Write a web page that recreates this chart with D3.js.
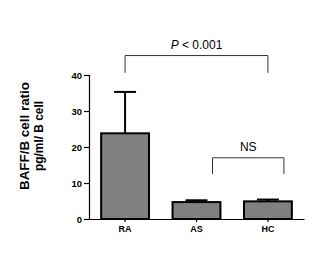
<!DOCTYPE html>
<html>
<head>
<meta charset="utf-8">
<script src="https://cdn.jsdelivr.net/npm/d3@7"></script>
<style>
  body { margin: 0; background: #fff; }
  svg { display: block; font-family: Arial, "Liberation Sans", sans-serif; }
</style>
</head>
<body>
<svg width="326" height="254"></svg>
<script>
// group means and error (SEM)
const groups = ["RA", "AS", "HC"];
const means = [23.8, 4.7, 4.9];
const errors = [11.5, 0.5, 0.5];
const yTicks = [0, 10, 20, 30, 40];

// significance brackets: [from group, to group, top value, leg end value, label]
const brackets = [
    ["RA", "HC", 45.4, 40.6, "P < 0.001"],
    ["AS", "HC", 17.0, 12.5, "NS"]
];

var svg = d3.select("svg");

var x = d3.scaleBand()
    .domain(groups)
    .range([89, 304])
    .paddingInner(0.33)
    .paddingOuter(0.17);

var y = d3.scaleLinear()
    .domain([0, 40])
    .range([219, 75]);

// y axis
var yAxis = svg.append("g")
    .attr("transform", "translate(89,0)")
    .call(d3.axisLeft(y).tickValues(yTicks).tickSize(5).tickPadding(2));
yAxis.select(".domain").attr("stroke", "#000").attr("stroke-width", 1.2);
yAxis.selectAll(".tick line").attr("stroke", "#000").attr("stroke-width", 1.2);
yAxis.selectAll(".tick text")
    .style("font-size", "9.5px")
    .style("font-weight", "bold")
    .attr("fill", "#000");

// x axis
var xAxis = svg.append("g")
    .attr("transform", "translate(0,219)")
    .call(d3.axisBottom(x).tickSize(3).tickSizeOuter(0).tickPadding(4));
xAxis.select(".domain").attr("stroke", "#000").attr("stroke-width", 1.2);
xAxis.selectAll(".tick line").attr("stroke", "#000").attr("stroke-width", 1.2);
xAxis.selectAll(".tick text")
    .style("font-size", "9px")
    .style("font-weight", "bold")
    .attr("fill", "#000");

var data = groups.map(function (g, i) {
    return { group: g, mean: means[i], err: errors[i] };
});

// error bars (drawn first so bar outline covers the stem base)
svg.selectAll(".err")
    .data(data)
    .enter().append("line")
    .attr("x1", function (d) { return x(d.group) + x.bandwidth() / 2; })
    .attr("x2", function (d) { return x(d.group) + x.bandwidth() / 2; })
    .attr("y1", function (d) { return y(d.mean); })
    .attr("y2", function (d) { return y(d.mean + d.err); })
    .attr("stroke", "#000")
    .attr("stroke-width", 2);

svg.selectAll(".cap")
    .data(data)
    .enter().append("line")
    .attr("x1", function (d) { return x(d.group) + x.bandwidth() / 2 - 11; })
    .attr("x2", function (d) { return x(d.group) + x.bandwidth() / 2 + 11; })
    .attr("y1", function (d) { return y(d.mean + d.err); })
    .attr("y2", function (d) { return y(d.mean + d.err); })
    .attr("stroke", "#000")
    .attr("stroke-width", 2);

// bars
svg.selectAll(".bar")
    .data(data)
    .enter().append("rect")
    .attr("x", function (d) { return x(d.group); })
    .attr("y", function (d) { return y(d.mean); })
    .attr("width", x.bandwidth())
    .attr("height", function (d) { return y(0) - y(d.mean); })
    .attr("fill", "#808080")
    .attr("stroke", "#000")
    .attr("stroke-width", 2);

// brackets
brackets.forEach(function (b, i) {
    var off = i == 0 ? 0 : 16;
    var x1 = x(b[0]) + x.bandwidth() / 2 + off,
        x2 = x(b[1]) + x.bandwidth() / 2 + off;
    svg.append("path")
        .attr("d", "M" + x1 + "," + y(b[3]) + "V" + y(b[2]) + "H" + x2 + "V" + y(b[3]))
        .attr("fill", "none")
        .attr("stroke", "#333")
        .attr("stroke-width", 1);
    var t = svg.append("text")
        .attr("x", (x1 + x2) / 2)
        .attr("y", y(b[2]) - 7)
        .attr("text-anchor", "middle")
        .style("font-size", "12px")
        .attr("fill", "#000");
    if (b[4].charAt(0) == "P") {
        t.append("tspan").style("font-style", "italic").text("P");
        t.append("tspan").text(b[4].slice(1));
    } else {
        t.text(b[4]);
    }
});

// y axis title
var title = svg.append("g")
    .attr("transform", "translate(31,136) rotate(-90)")
    .style("font-size", "13px")
    .style("font-weight", "bold")
    .attr("fill", "#000");
title.append("text")
    .attr("y", -2)
    .attr("text-anchor", "middle")
    .attr("textLength", 108)
    .attr("lengthAdjust", "spacingAndGlyphs")
    .text("BAFF/B cell ratio");
title.append("text")
    .attr("y", 12)
    .attr("text-anchor", "middle")
    .attr("textLength", 70)
    .attr("lengthAdjust", "spacingAndGlyphs")
    .text("pg/ml/ B cell");
</script>
</body>
</html>
